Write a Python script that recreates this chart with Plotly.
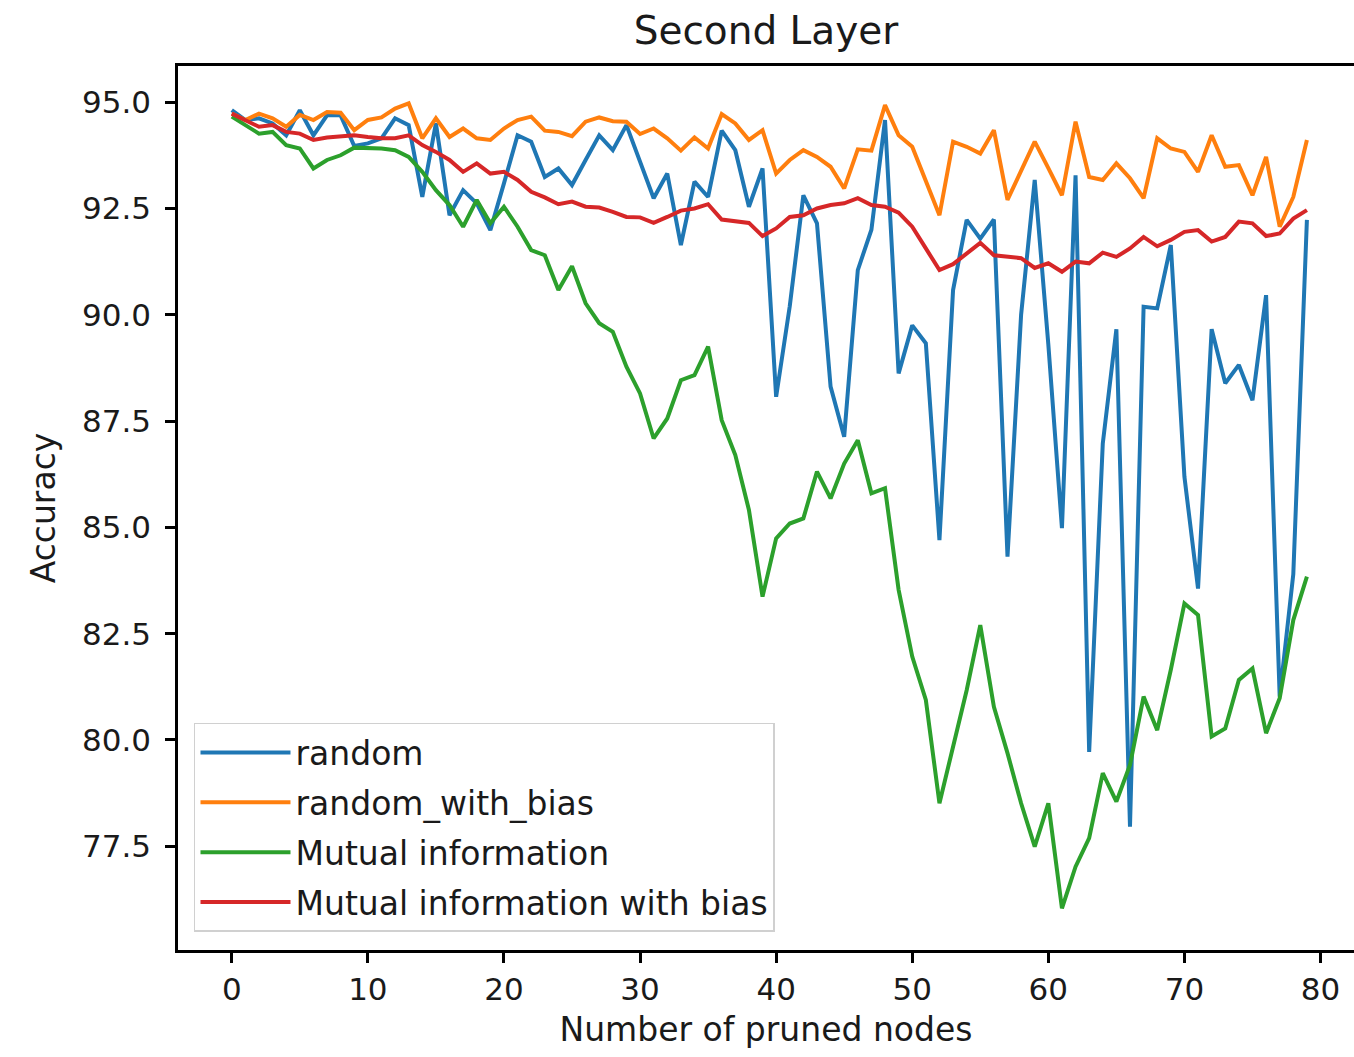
import plotly.graph_objects as go

nodes = list(range(80))

random_acc = [94.81, 94.58, 94.62, 94.50, 94.22, 94.81, 94.22, 94.69, 94.69, 93.97,
              94.03, 94.15, 94.62, 94.46, 92.77, 94.50, 92.34, 92.93, 92.62, 91.99,
              93.09, 94.22, 94.07, 93.24, 93.44, 93.05, 93.64, 94.22, 93.87, 94.46,
              93.60, 92.74, 93.32, 91.64, 93.13, 92.77, 94.33, 93.87, 92.54, 93.44,
              88.07, 90.20, 92.81, 92.15, 88.31, 87.13, 91.05, 92.00, 94.58, 88.62,
              89.75, 89.33, 84.70, 90.58, 92.23, 91.79, 92.24, 84.31, 90.00, 93.17,
              89.30, 84.98, 93.28, 79.72, 86.97, 89.66, 77.96, 90.19, 90.15, 91.64,
              86.19, 83.56, 89.66, 88.39, 88.82, 87.99, 90.46, 81.02, 83.90, 92.23]

random_bias_acc = [94.73, 94.58, 94.73, 94.62, 94.42, 94.70, 94.58, 94.77, 94.75, 94.34,
                   94.58, 94.64, 94.85, 94.97, 94.15, 94.62, 94.18, 94.38, 94.15, 94.11,
                   94.38, 94.58, 94.66, 94.33, 94.30, 94.20, 94.54, 94.64, 94.55, 94.54,
                   94.25, 94.38, 94.15, 93.86, 94.17, 93.91, 94.72, 94.50, 94.11, 94.34,
                   93.32, 93.64, 93.87, 93.71, 93.48, 92.97, 93.89, 93.86, 94.93, 94.22,
                   93.95, 93.17, 92.34, 94.07, 93.95, 93.79, 94.34, 92.70, 93.36, 94.07,
                   93.45, 92.81, 94.54, 93.24, 93.17, 93.56, 93.21, 92.74, 94.15, 93.91,
                   93.83, 93.36, 94.22, 93.48, 93.52, 92.81, 93.71, 92.07, 92.77, 94.11]

mi_acc = [94.66, 94.46, 94.26, 94.30, 93.99, 93.91, 93.44, 93.64, 93.75, 93.93,
          93.93, 93.91, 93.87, 93.71, 93.36, 92.93, 92.58, 92.07, 92.70, 92.15,
          92.54, 92.07, 91.52, 91.40, 90.58, 91.14, 90.27, 89.80, 89.60, 88.78,
          88.15, 87.09, 87.56, 88.46, 88.58, 89.25, 87.52, 86.70, 85.41, 83.37,
          84.74, 85.09, 85.21, 86.31, 85.68, 86.50, 87.05, 85.80, 85.92, 83.53,
          81.96, 80.94, 78.51, 79.84, 81.17, 82.70, 80.78, 79.69, 78.51, 77.49,
          78.51, 76.04, 77.02, 77.69, 79.22, 78.55, 79.41, 81.02, 80.23, 81.65,
          83.21, 82.94, 80.08, 80.27, 81.41, 81.68, 80.16, 80.98, 82.82, 83.84]

mi_bias_acc = [94.73, 94.58, 94.42, 94.46, 94.30, 94.26, 94.11, 94.17, 94.20, 94.22,
               94.18, 94.15, 94.15, 94.22, 93.99, 93.83, 93.64, 93.36, 93.56, 93.32,
               93.36, 93.17, 92.89, 92.76, 92.60, 92.66, 92.54, 92.52, 92.42, 92.30,
               92.29, 92.16, 92.30, 92.45, 92.50, 92.60, 92.24, 92.20, 92.16, 91.85,
               92.03, 92.30, 92.34, 92.50, 92.58, 92.62, 92.74, 92.58, 92.54, 92.40,
               92.07, 91.56, 91.05, 91.19, 91.44, 91.69, 91.40, 91.36, 91.33, 91.10,
               91.21, 91.01, 91.25, 91.21, 91.46, 91.36, 91.56, 91.83, 91.61, 91.76,
               91.95, 91.99, 91.72, 91.83, 92.19, 92.15, 91.85, 91.91, 92.26, 92.46]

series_names = ["random", "random_with_bias", "Mutual information", "Mutual information with bias"]
series_colors = ["#1f77b4", "#ff7f0e", "#2ca02c", "#d62728"]
x_ticks = [0, 10, 20, 30, 40, 50, 60, 70, 80]
y_ticks = [77.5, 80.0, 82.5, 85.0, 87.5, 90.0, 92.5, 95.0]

FONT = "DejaVu Sans"
TXT = "#1a1a1a"

fig = go.Figure()
for name, vals, col in zip(series_names, [random_acc, random_bias_acc, mi_acc, mi_bias_acc], series_colors):
    fig.add_trace(go.Scatter(x=nodes, y=vals, mode="lines", name=name, legendgroup=name,
                             line=dict(color=col, width=4)))

fig.update_layout(
    width=1354, height=1057,
    margin=dict(l=178, r=0, t=66, b=107),
    paper_bgcolor="white", plot_bgcolor="white",
    font=dict(family=FONT, size=31, color=TXT),
    title=dict(text="Second Layer", x=0.5, xref="paper", xanchor="center",
               y=1 - 30 / 1057, yref="container", yanchor="middle",
               font=dict(family=FONT, size=39, color=TXT)),
    showlegend=True,
    legend=dict(x=0.0136, y=0.0204, xanchor="left", yanchor="bottom",
                bgcolor="rgba(255,255,255,0.8)", bordercolor="#d0d0d0", borderwidth=1.5,
                font=dict(family=FONT, size=33, color=TXT),
                itemwidth=90, tracegroupgap=4),
)

fig.update_xaxes(range=[-3.95, 82.46], tickvals=x_ticks, ticktext=[str(v) for v in x_ticks],
                 showgrid=False, zeroline=False, showline=True, linecolor="black", linewidth=2.5,
                 mirror=True, ticks="outside", ticklen=10, tickwidth=2.5, tickcolor="black",
                 title=dict(text="Number of pruned nodes", standoff=12,
                            font=dict(family=FONT, size=33, color=TXT)))
fig.update_yaxes(range=[75.06, 95.85], tickvals=y_ticks, ticktext=[f"{v:.1f}" for v in y_ticks],
                 showgrid=False, zeroline=False, showline=True, linecolor="black", linewidth=2.5,
                 mirror=False, ticks="outside", ticklen=10, tickwidth=2.5, tickcolor="black",
                 ticklabelstandoff=8,
                 title=dict(text="Accuracy", standoff=17,
                            font=dict(family=FONT, size=33, color=TXT)))

fig.write_html("out.html")
